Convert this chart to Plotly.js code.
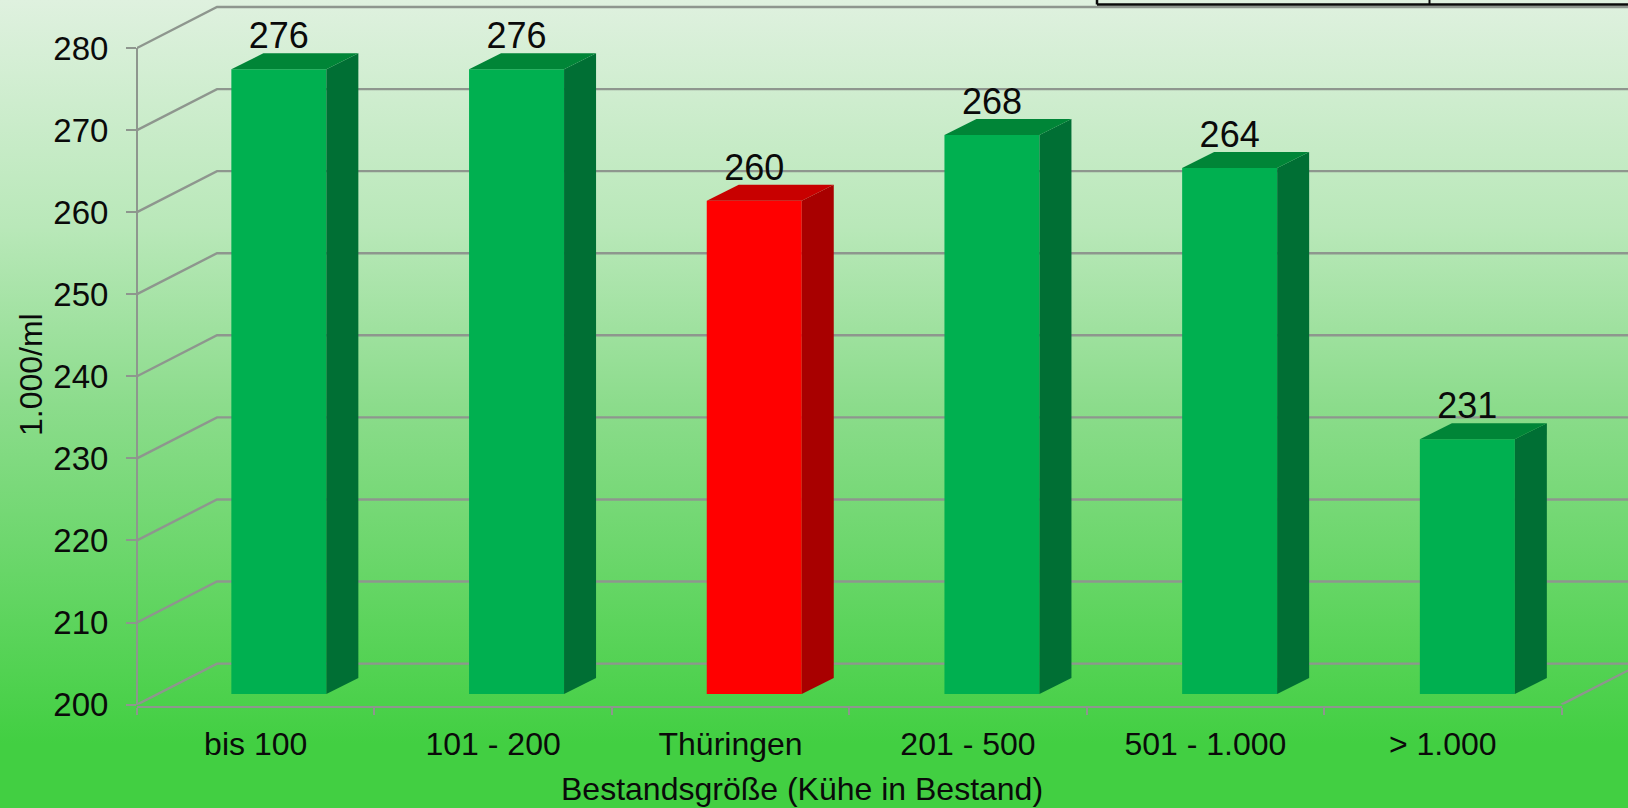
<!DOCTYPE html>
<html><head><meta charset="utf-8">
<script src="https://cdn.plot.ly/plotly-3.0.1.min.js"></script>
<style>
html,body{margin:0;padding:0;width:1628px;height:808px;overflow:hidden}
#chart{width:1628px;height:808px;background:linear-gradient(180deg,#dff1df 0%,#b9e8b9 28%,#8cdc8c 50%,#62d562 74%,#42cf42 92%,#42cf42 100%)}
</style></head><body><div id="chart"></div>
<script>
const categories = ["bis 100","101 - 200","Thüringen","201 - 500","501 - 1.000","> 1.000"];
const values = [276,276,260,268,264,231];
const barFront = ["#00b050","#00b050","#ff0000","#00b050","#00b050","#00b050"];
const barSide  = ["#006f34","#006f34","#a80000","#006f34","#006f34","#006f34"];
const barTop   = ["#008537","#008537","#c80000","#008537","#008537","#008537"];
const gridValues = [200,210,220,230,240,250,260,270,280];
const yMin = 200, yMax = 280;

const W = 1628, H = 808;
const frontL = 137, frontR = 1561.5, frontTop = 48, frontBottom = 704.6, axisLineY = 706.7;
const catW = (frontR-frontL)/6, pxPerUnit = (frontBottom-frontTop)/(yMax-yMin);
const wallDx = 80, wallDy = 41;
const barL = 160, barCatW = 237.7, barBottom = 694, barUnit = 8.22;
const barDepthX = 32/barCatW, barDepthY = 16/barUnit, barWidth = 95/barCatW, labelDrop = 4/barUnit;
const gridColor = "#8e968e";

const traces = [];
traces.push({type:"scatter",mode:"markers",x:categories,y:values,xaxis:"x",yaxis:"y",
  marker:{opacity:0},hoverinfo:"skip",showlegend:false});

const dxU = wallDx/catW, dyU = wallDy/pxPerUnit;
const projMaxX = -0.5+(W-frontL)/catW, projMaxY = yMin+frontBottom/pxPerUnit;
gridValues.forEach(v=>{
  traces.push({type:"scatter",mode:"lines",xaxis:"x2",yaxis:"y2",
    x:[-0.5,-0.5+dxU,projMaxX],y:[v,v+dyU,v+dyU],
    line:{color:gridColor,width:2.4},hoverinfo:"skip",showlegend:false});
});
traces.push({type:"scatter",mode:"lines",xaxis:"x2",yaxis:"y2",
  x:[5.5,5.5+dxU],y:[yMin,yMin+dyU],line:{color:gridColor,width:2.4},hoverinfo:"skip",showlegend:false});

const xs = categories.map((c,i)=>i);
traces.push({type:"bar",x:xs,y:values.map(v=>v-yMin),base:yMin,width:barWidth,xaxis:"x3",yaxis:"y3",
  marker:{color:barFront,line:{width:0}},hoverinfo:"skip",showlegend:false});
values.forEach((v,i)=>{
  const l=i-barWidth/2,r=i+barWidth/2,dx=barDepthX,dy=barDepthY;
  traces.push({type:"scatter",mode:"lines",xaxis:"x3",yaxis:"y3",fill:"toself",fillcolor:barSide[i],
    x:[r,r+dx,r+dx,r,r],y:[yMin,yMin+dy,v+dy,v,yMin],line:{width:0,color:barSide[i]},hoverinfo:"skip",showlegend:false});
  traces.push({type:"scatter",mode:"lines",xaxis:"x3",yaxis:"y3",fill:"toself",fillcolor:barTop[i],
    x:[l,l+dx,r+dx,r,l],y:[v,v+dy,v+dy,v,v],line:{width:0,color:barTop[i]},hoverinfo:"skip",showlegend:false});
});
traces.push({type:"scatter",mode:"text",xaxis:"x3",yaxis:"y3",x:xs,y:values.map(v=>v+barDepthY-labelDrop),
  text:values.map(String),textposition:"top center",cliponaxis:false,
  textfont:{family:"Liberation Sans",size:36,color:"#0a0a0a"},hoverinfo:"skip",showlegend:false});

const tickFont = {family:"Liberation Sans",size:33,color:"#0a0a0a"};
const catFont = {family:"Liberation Sans",size:32,color:"#0a0a0a"};
const hidden = {visible:false,fixedrange:true};
const layout = {
  width:W,height:H,margin:{l:0,r:0,t:0,b:0},showlegend:false,
  paper_bgcolor:"rgba(0,0,0,0)",plot_bgcolor:"rgba(0,0,0,0)",font:tickFont,
  xaxis:{type:"category",domain:[frontL/W,frontR/W],range:[-0.5,5.5],anchor:"free",position:(H-axisLineY)/H,
    tickson:"boundaries",ticks:"outside",ticklen:7,tickwidth:2,tickcolor:gridColor,
    showline:true,linecolor:gridColor,linewidth:2.4,showgrid:false,zeroline:false,
    tickfont:catFont,ticklabelstandoff:8},
  yaxis:{domain:[(H-frontBottom)/H,(H-frontTop)/H],range:[yMin,yMax],anchor:"free",position:frontL/W,
    tickvals:gridValues,ticks:"outside",ticklen:10,tickwidth:2,tickcolor:gridColor,
    showline:true,linecolor:gridColor,linewidth:2.4,showgrid:false,zeroline:false,
    tickfont:tickFont,ticklabelstandoff:11},
  xaxis2:{...hidden,domain:[frontL/W,1],range:[-0.5,projMaxX],anchor:"y2"},
  yaxis2:{...hidden,domain:[(H-frontBottom)/H,1],range:[yMin,projMaxY],anchor:"x2"},
  xaxis3:{...hidden,domain:[barL/W,(barL+6*barCatW)/W],range:[-0.5,5.5],anchor:"y3"},
  yaxis3:{...hidden,domain:[(H-barBottom)/H,(H-barBottom+80*barUnit)/H],range:[yMin,yMax],anchor:"x3"},
  annotations:[
    {text:"Bestandsgröße (Kühe in Bestand)",xref:"paper",yref:"paper",x:801.5/W,y:1-788.5/H,showarrow:false,
     xanchor:"center",yanchor:"middle",font:catFont},
    {text:"1.000/ml",xref:"paper",yref:"paper",x:31/W,y:1-375/H,showarrow:false,textangle:-90,
     xanchor:"center",yanchor:"middle",font:catFont}
  ],
  shapes:[
    {type:"line",xref:"paper",yref:"paper",x0:1097/W,x1:1,y0:1-4.5/H,y1:1-4.5/H,line:{color:"#0a0a0a",width:2.5},layer:"above"},
    {type:"line",xref:"paper",yref:"paper",x0:1097/W,x1:1097/W,y0:1-4.5/H,y1:1,line:{color:"#0a0a0a",width:2.5},layer:"above"},
    {type:"line",xref:"paper",yref:"paper",x0:1429.5/W,x1:1429.5/W,y0:1-4.5/H,y1:1,line:{color:"#0a0a0a",width:2},layer:"above"}
  ]
};
Plotly.newPlot("chart",traces,layout,{displayModeBar:false,staticPlot:true});
</script></body></html>
